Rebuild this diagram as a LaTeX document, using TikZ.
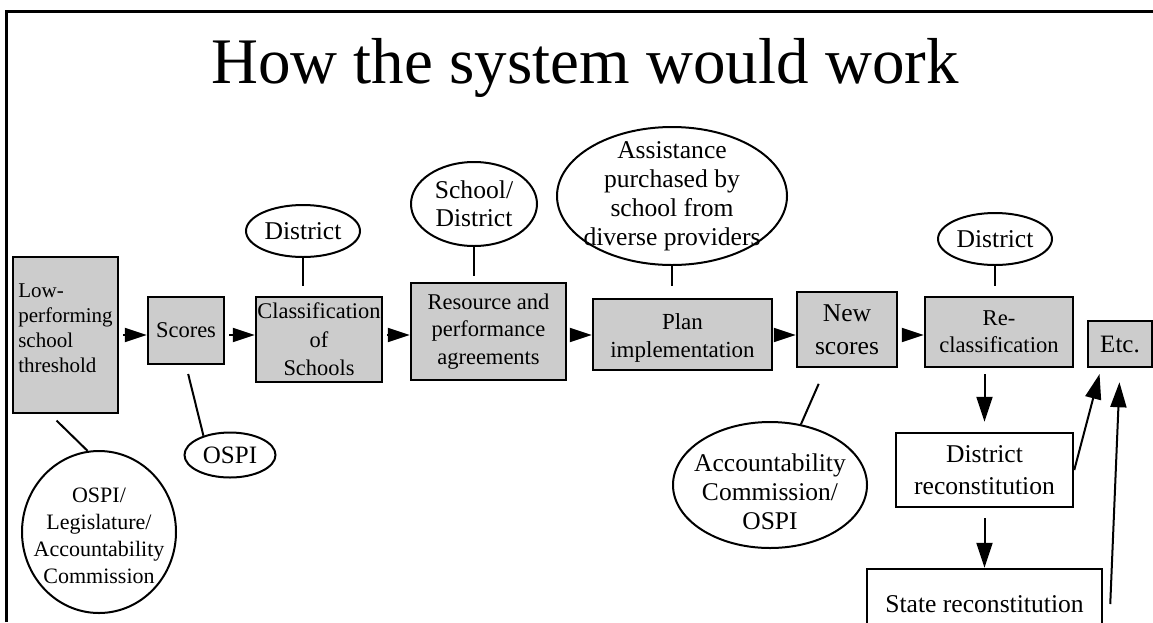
\documentclass[tikz,border=0pt]{standalone}
\usepackage{fontspec}
\setmainfont{Liberation Serif}
\usetikzlibrary{arrows.meta,shapes.geometric}

\begin{document}
\begin{tikzpicture}[
                    x=1pt, y=-1pt,
                    stage/.style={
                        rectangle,
                        draw=black,
                        fill=black!20,
                        line width=2.5pt,
                        inner sep=0pt,
                        align=center,
                        font=\fontsize{22.5}{27.5}\selectfont
                    },
                    outcome/.style={
                        rectangle,
                        draw=black,
                        line width=2.5pt,
                        inner sep=0pt,
                        align=center,
                        font=\fontsize{25.6}{32}\selectfont
                    },
                    actor/.style={
                        ellipse,
                        draw=black,
                        line width=2pt,
                        inner sep=-60pt,
                        align=center,
                        font=\fontsize{25.6}{29}\selectfont
                    },
                    link/.style={line width=2pt},
                    flow/.style={line width=2pt, -{Triangle[length=22pt,width=14pt]}},
                    drop/.style={line width=2pt, -{Triangle[length=25pt,width=16pt]}}
                ]
                \useasboundingbox (0,0) rectangle (1153,622);
                \clip (0,0) rectangle (1153,622);
                \draw [line width=3pt] (6,622) -- (6,11) -- (1153,11);
                \coordinate (row) at (0,335);

                \node (title) [anchor=base, font=\fontsize{65}{78}\selectfont] at (585,83) {How the system would work};

                \node (lowperf) [stage, minimum width=105pt, minimum height=156pt, align=left, font=\fontsize{21}{25}\selectfont] at (65.5,335) {Low-\\performing\\school\\threshold\rule[-14pt]{0pt}{14pt}};
                \node (scores) [stage, minimum width=76pt, minimum height=67pt] at (186,330.5) {Scores};
                \node (classify) [stage, minimum width=126pt, minimum height=85pt, font=\fontsize{22.4}{28.5}\selectfont] at (319,339.5) {Classification\\of\\Schools};
                \node (agree) [stage, minimum width=155pt, minimum height=97pt] at (488.5,331.5) {Resource and\\performance\\agreements};
                \node (plan) [stage, minimum width=179pt, minimum height=71pt, font=\fontsize{23}{28}\selectfont] at (682.5,334.5) {\rule{0pt}{23.5pt}Plan\\implementation};
                \node (newscores) [stage, minimum width=100pt, minimum height=75pt, font=\fontsize{25.6}{33}\selectfont] at (847,329.5) {New\\scores};
                \node (reclass) [stage, minimum width=148pt, minimum height=70pt, font=\fontsize{22.6}{27}\selectfont] at (999,332) {Re-\\classification};
                \node (etcbox) [stage, minimum width=64pt, minimum height=46pt, font=\fontsize{25}{30}\selectfont] at (1120,344) {Etc.};
                \node (distrecon) [outcome, minimum width=177pt, minimum height=74pt] at (984.5,470) {District\\reconstitution};
                \node (staterecon) [outcome, minimum width=235pt, minimum height=70pt] at (984.5,604) {State reconstitution};

                \node (olegis) [actor, minimum width=154pt, minimum height=162pt, font=\fontsize{22}{27}\selectfont] at (99,532) {\rule{0pt}{23pt}OSPI/\\Legislature/\\Accountability\\Commission};
                \node (ospi) [actor, minimum width=91pt, minimum height=45pt, font=\fontsize{25}{30}\selectfont] at (230,455) {OSPI};
                \node (districtA) [actor, minimum width=114pt, minimum height=52pt] at (303,231) {District};
                \node (schooldist) [actor, minimum width=126pt, minimum height=84pt, font=\fontsize{25.6}{28}\selectfont] at (474,204) {School/\\District};
                \node (assist) [actor, minimum width=230pt, minimum height=138pt] at (672,196) {Assistance\\purchased by\\school from\\diverse providers};
                \node (districtB) [actor, minimum width=114pt, minimum height=52pt] at (995,239) {District};
                \node (acctcomm) [actor, minimum width=194pt, minimum height=126pt, font=\fontsize{25.5}{29}\selectfont] at (770,485) {\rule{0pt}{31pt}Accountability\\Commission/\\OSPI};

                \draw [link, shorten <=9pt] (lowperf.259) -- (olegis.98);
                \draw [link, shorten <=9pt] (scores.south) -- (ospi.144);
                \draw [link, shorten >=10pt] (districtA.south) -- (districtA.south |- classify.north);
                \draw [link, shorten >=6pt] (schooldist.south) -- (schooldist.south |- agree.north);
                \draw [link, shorten >=12pt] (assist.south) -- (assist.south |- plan.north);
                \draw [link, shorten >=10pt] (districtB.south) -- (districtB.south |- reclass.north);
                \draw [link, shorten <=17pt] (newscores.241) -- (acctcomm.63);

                \foreach \a/\b in {lowperf/scores, scores/classify, classify/agree, agree/plan, plan/newscores, newscores/reclass}
                    \draw [flow, shorten <=4pt] (\a.east |- row) -- (\b.west |- row);

                \draw [drop, shorten <=6pt, shorten >=10pt] (distrecon.north |- reclass.south) -- (distrecon.north);
                \draw [drop, shorten <=10pt] (distrecon.south) -- (staterecon.north);
                \draw [drop, shorten >=6pt] (distrecon.east) -- (etcbox.232);
                \draw [drop, shorten >=14pt] ([xshift=7pt]staterecon.east) -- (etcbox.south);
            \end{tikzpicture}
\end{document}
